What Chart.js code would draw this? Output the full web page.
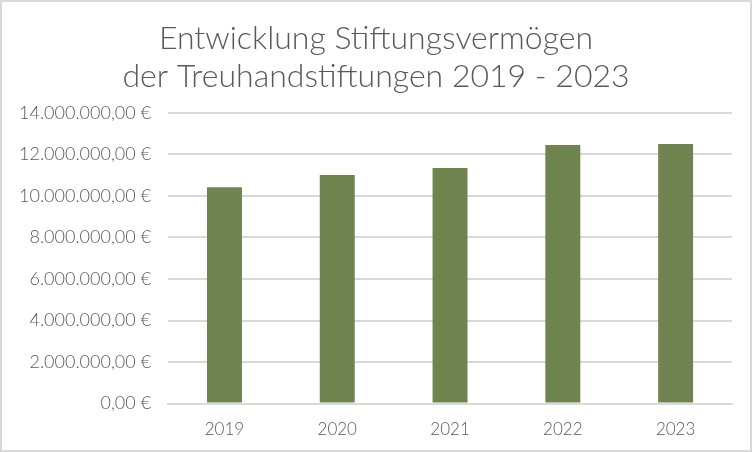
<!DOCTYPE html>
<html>
<head>
<meta charset="utf-8">
<script src="https://cdn.jsdelivr.net/npm/chart.js@4"></script>
<style>
  html, body { margin: 0; padding: 0; background: #fff; }
  #wrap { width: 752px; height: 452px; box-sizing: border-box; border: 2px solid #d9d9d9; position: relative; }
</style>
</head>
<body>
<div id="wrap"><canvas id="chart"></canvas></div>
<script>
// Chart data
const years = ['2019', '2020', '2021', '2022', '2023'];
const assets = [10420000, 11000000, 11340000, 12450000, 12500000];
const titleLines = ['Entwicklung Stiftungsvermögen', 'der Treuhandstiftungen 2019 - 2023'];

// German currency format, e.g. 14.000.000,00 €
function euro(v) {
    const s = Math.round(v).toString().replace(/\B(?=(\d{3})+(?!\d))/g, '.');
    return s + ',00 €';
}

const ctx = document.getElementById('chart').getContext('2d');
new Chart(ctx, {
    type: 'bar',
    data: {
        labels: years,
        datasets: [{
            data: assets,
            backgroundColor: '#708450',
            barPercentage: 0.31,
            categoryPercentage: 1
        }]
    },
    options: {
        responsive: true,
        maintainAspectRatio: false,
        animation: false,
        // symmetric padding keeps the title centred on the whole chart
        layout: { padding: { left: 18, right: 18, top: 17, bottom: 2 } },
        plugins: {
            legend: { display: false },
            tooltip: { enabled: false },
            title: {
                display: true,
                text: titleLines,
                color: '#595959',
                font: { family: 'Lato', size: 32, weight: '300' },
                lineHeight: 1.05,
                padding: { top: 0, bottom: 17 }
            }
        },
        scales: {
            x: {
                grid: { display: false },
                border: { color: '#d9d9d9', width: 2 },
                ticks: { color: '#595959', font: { family: 'Lato', size: 17, weight: '300' }, padding: 8 }
            },
            y: {
                min: 0,
                max: 14000000,
                afterFit: scale => { scale.width -= 18; },
                ticks: {
                    stepSize: 2000000,
                    color: '#595959',
                    font: { family: 'Lato', size: 18, weight: '300' },
                    padding: 17,
                    callback: v => euro(v)
                },
                grid: { color: '#d9d9d9', lineWidth: 2, drawTicks: false },
                border: { display: false }
            }
        }
    }
});
</script>
</body>
</html>
